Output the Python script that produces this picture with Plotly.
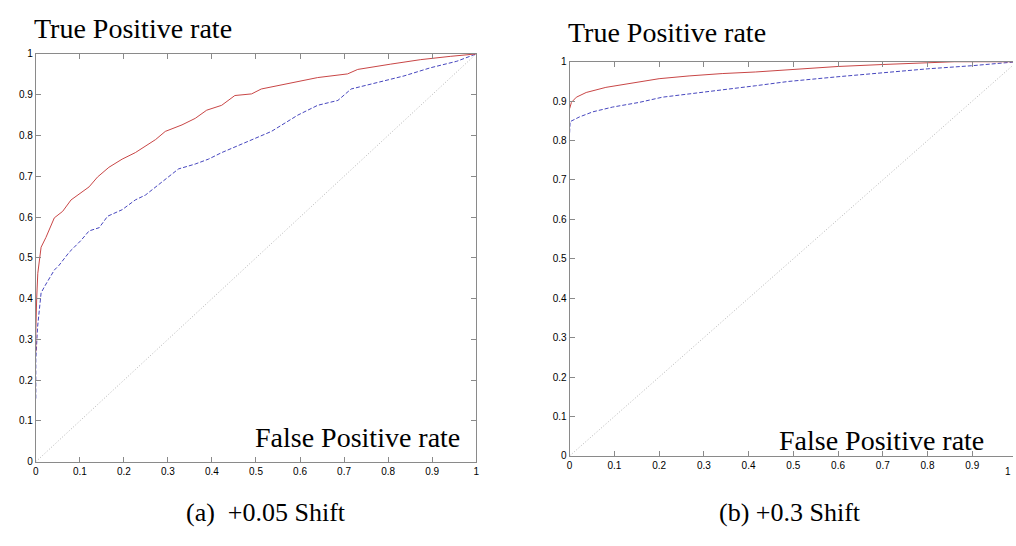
import plotly.graph_objects as go

# ROC curves, +0.05 shift panel
a_red_fpr = [0, 0, 0.002, 0.0045, 0.012, 0.023, 0.042, 0.061, 0.08, 0.10, 0.121, 0.14, 0.166,
             0.196, 0.226, 0.272, 0.294, 0.332, 0.362, 0.388, 0.422, 0.452, 0.49, 0.512, 0.565,
             0.64, 0.708, 0.731, 0.806, 0.874, 0.941, 1.0]
a_red_tpr = [0.27, 0.32, 0.40, 0.462, 0.526, 0.55, 0.598, 0.614, 0.642, 0.658, 0.674, 0.698, 0.722,
             0.742, 0.758, 0.79, 0.81, 0.826, 0.842, 0.862, 0.874, 0.898, 0.902, 0.914, 0.926,
             0.942, 0.951, 0.962, 0.975, 0.986, 0.994, 1.0]
a_blue_fpr = [0, 0, 0.004, 0.012, 0.02, 0.042, 0.053, 0.076, 0.102, 0.121, 0.144, 0.163, 0.196,
              0.226, 0.249, 0.272, 0.302, 0.324, 0.362, 0.392, 0.422, 0.49, 0.535, 0.595, 0.64,
              0.686, 0.716, 0.776, 0.836, 0.896, 0.956, 1.0]
a_blue_tpr = [0.155, 0.25, 0.33, 0.414, 0.43, 0.47, 0.482, 0.514, 0.542, 0.566, 0.574, 0.602, 0.618,
              0.642, 0.654, 0.674, 0.698, 0.718, 0.73, 0.742, 0.758, 0.79, 0.81, 0.85, 0.874,
              0.886, 0.914, 0.93, 0.946, 0.966, 0.982, 1.0]

# ROC curves, +0.3 shift panel
b_red_fpr = [0, 0.004, 0.015, 0.037, 0.081, 0.141, 0.2, 0.267, 0.341, 0.415, 0.489, 0.563, 0.6,
             0.7, 0.8, 0.86, 1.0]
b_red_tpr = [0.881, 0.897, 0.91, 0.922, 0.935, 0.947, 0.957, 0.964, 0.97, 0.974, 0.98, 0.986, 0.988,
             0.993, 0.997, 1.0, 1.0]
b_blue_fpr = [0, 0, 0.001, 0.022, 0.052, 0.096, 0.156, 0.207, 0.267, 0.341, 0.415, 0.489, 0.563,
              0.6, 0.7, 0.8, 0.9, 1.0]
b_blue_tpr = [0.82, 0.835, 0.848, 0.86, 0.873, 0.885, 0.897, 0.91, 0.918, 0.928, 0.939, 0.95, 0.957,
              0.962, 0.972, 0.982, 0.99, 1.0]

chance = [0, 1]
tick_vals = [0, 0.1, 0.2, 0.3, 0.4, 0.5, 0.6, 0.7, 0.8, 0.9, 1]
tick_text = ["0", "0.1", "0.2", "0.3", "0.4", "0.5", "0.6", "0.7", "0.8", "0.9", "1"]

W, H = 1016, 546
RED = "rgb(200,70,70)"
BLUE = "rgb(70,70,190)"
GREY = "#8a8a8a"

fig = go.Figure()

def add_panel(xa, ya, rx, ry, bx, by):
    fig.add_trace(go.Scatter(x=chance, y=chance, mode="lines", xaxis=xa, yaxis=ya,
                             line=dict(color="#b4b4b4", width=1, dash="1px,2px")))
    fig.add_trace(go.Scatter(x=bx, y=by, mode="lines", xaxis=xa, yaxis=ya,
                             line=dict(color=BLUE, width=1, dash="4px,2px")))
    fig.add_trace(go.Scatter(x=rx, y=ry, mode="lines", xaxis=xa, yaxis=ya,
                             line=dict(color=RED, width=1)))

add_panel("x", "y", a_red_fpr, a_red_tpr, a_blue_fpr, a_blue_tpr)
add_panel("x2", "y2", b_red_fpr, b_red_tpr, b_blue_fpr, b_blue_tpr)

tick_font = dict(family="Liberation Sans, Arial, sans-serif", size=10, color="black")
axis_common = dict(showgrid=False, zeroline=False, showline=True, linecolor=GREY, linewidth=1,
                   ticks="inside", ticklen=5, tickcolor=GREY, tickwidth=1,
                   tickvals=tick_vals, ticktext=tick_text, tickfont=tick_font)

def px(x):
    return x / W

def py(y):
    return (H - y) / H

fig.update_layout(
    width=W, height=H, margin=dict(l=0, r=0, t=0, b=0),
    paper_bgcolor="white", plot_bgcolor="white", showlegend=False,
    xaxis=dict(domain=[px(33), px(476)], range=[0, 1], anchor="y", mirror="ticks", **axis_common),
    yaxis=dict(domain=[py(466), py(49)], range=[0, 1], anchor="x", mirror="ticks", **axis_common),
    xaxis2=dict(domain=[px(570), 1.0], range=[0, (W - 570) / 450], anchor="y2", mirror="ticks",
                **axis_common),
    yaxis2=dict(domain=[py(460), py(57)], range=[0, 1], anchor="x2", mirror=False, **axis_common),
)

serif = "Liberation Serif, Times New Roman, serif"
labels = [
    ("True Positive rate", 29, 23, 28),
    ("True Positive rate", 566, 27, 28),
    ("False Positive rate", 251, 441, 28),
    ("False Positive rate", 779, 444, 28),
    ("(a)  +0.05 Shift", 182, 518, 26),
    ("(b) +0.3 Shift", 718, 518, 26),
]
for text, x, y, size in labels:
    fig.add_annotation(text=text, x=px(x), y=py(y), xref="paper", yref="paper",
                       xanchor="left", yanchor="middle", showarrow=False,
                       font=dict(family=serif, size=size, color="black"))

# right panel's last x tick label, kept at the page edge
fig.add_annotation(text="1", x=1.0, y=py(476), xref="paper", yref="paper",
                   xanchor="right", yanchor="middle", showarrow=False, font=tick_font)

fig.write_html("out.html")
